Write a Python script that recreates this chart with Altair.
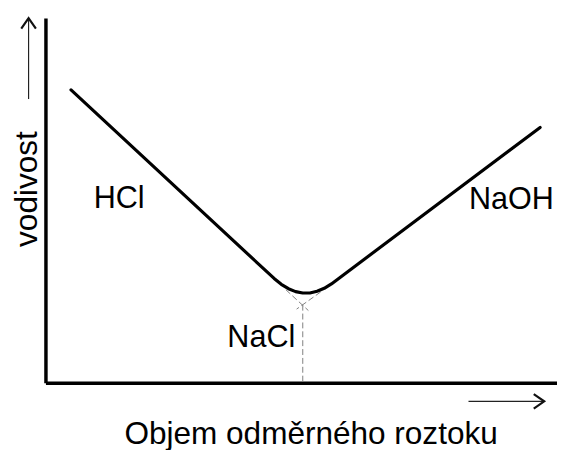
import altair as alt
import pandas as pd

# --- data (schematic conductometric titration curve) ---
curve_x = [5.0, 44.7, 46.1, 47.5, 48.9, 50.3, 51.7, 53.1, 54.5, 55.9, 96.7]
curve_y = [80.3, 28.6, 27.0, 25.8, 25.0, 24.6, 24.6, 25.1, 25.9, 27.1, 70.0]

# dashed extensions of the two branches and the drop line to the x axis
dash_x = [47.0, 53.8, 50.3]
dash_y = [25.5, 24.9, 21.4]
dash_x2 = [51.4, 49.1, 50.3]
dash_y2 = [19.8, 20.2, 0.0]

# labels
label_text = ["HCl", "NaOH", "NaCl"]
label_x = [14.4, 91.1, 42.2]
label_y = [47.8, 47.6, 9.7]

# axis arrows (beside the axis titles)
arrow_x = [-3.3, 82.7]
arrow_y = [77.8, -5.1]
arrow_x2 = [-3.3, 97.5]
arrow_y2 = [100.0, -5.1]
head_angle = [0, 90]

FONT = "Liberation Sans"

curve_df = pd.DataFrame({"x": curve_x, "y": curve_y})
dash_df = pd.DataFrame({"x": dash_x, "y": dash_y, "x2": dash_x2, "y2": dash_y2})
label_df = pd.DataFrame({"x": label_x, "y": label_y, "t": label_text})
arrow_df = pd.DataFrame({"x": arrow_x, "y": arrow_y, "x2": arrow_x2, "y2": arrow_y2})
head_df = pd.DataFrame({"x": arrow_x2, "y": arrow_y2, "a": head_angle})

xs = alt.Scale(domain=[0, 100], nice=False, zero=False)
ys = alt.Scale(domain=[0, 100], nice=False, zero=False)

x_axis = alt.Axis(
    title="Objem odměrného roztoku",
    ticks=False, labels=False, grid=False,
    domainColor="black", domainWidth=3.5,
    titleX=269, titleY=62, titleAlign="center", titleBaseline="alphabetic",
    titleFont=FONT, titleFontSize=32, titleFontWeight="normal", titleColor="black",
)
y_axis = alt.Axis(
    title="vodivost",
    ticks=False, labels=False, grid=False,
    domainColor="black", domainWidth=3.5,
    titleAngle=270, titleX=-9, titleY=173, titleAlign="center", titleBaseline="alphabetic",
    titleFont=FONT, titleFontSize=32, titleFontWeight="normal", titleColor="black",
)

X = alt.X("x:Q", scale=xs, axis=x_axis)
Y = alt.Y("y:Q", scale=ys, axis=y_axis)

curve = alt.Chart(curve_df).mark_line(
    color="black", strokeWidth=3.2, strokeJoin="round", strokeCap="round"
).encode(x=X, y=Y, order=alt.Order("x:Q"))

dashes = alt.Chart(dash_df).mark_rule(
    color="#808080", strokeWidth=1, strokeDash=[6, 3]
).encode(x=X, y=Y, x2="x2:Q", y2="y2:Q")

labels = alt.Chart(label_df).mark_text(
    font=FONT, fontSize=31, color="black", align="center", baseline="alphabetic"
).encode(x=X, y=Y, text="t:N")

arrows = alt.Chart(arrow_df).mark_rule(
    color="#222222", strokeWidth=1.2
).encode(x=X, y=Y, x2="x2:Q", y2="y2:Q")

heads = alt.Chart(head_df).mark_point(
    shape="M -0.7 1 L 0 0 L 0.7 1", filled=False, size=450,
    color="#111111", strokeWidth=2.2, opacity=1
).encode(x=X, y=Y, angle=alt.Angle("a:Q", scale=None))

chart = alt.layer(dashes, curve, labels, arrows, heads).properties(
    width=519, height=370,
    autosize=alt.AutoSizeParams(type="none"),
    padding={"left": 38, "top": 7, "right": 0, "bottom": 65},
    background="white",
).configure_view(stroke="transparent")

chart.save("out.html", embed_options={"renderer": "svg", "actions": False})
